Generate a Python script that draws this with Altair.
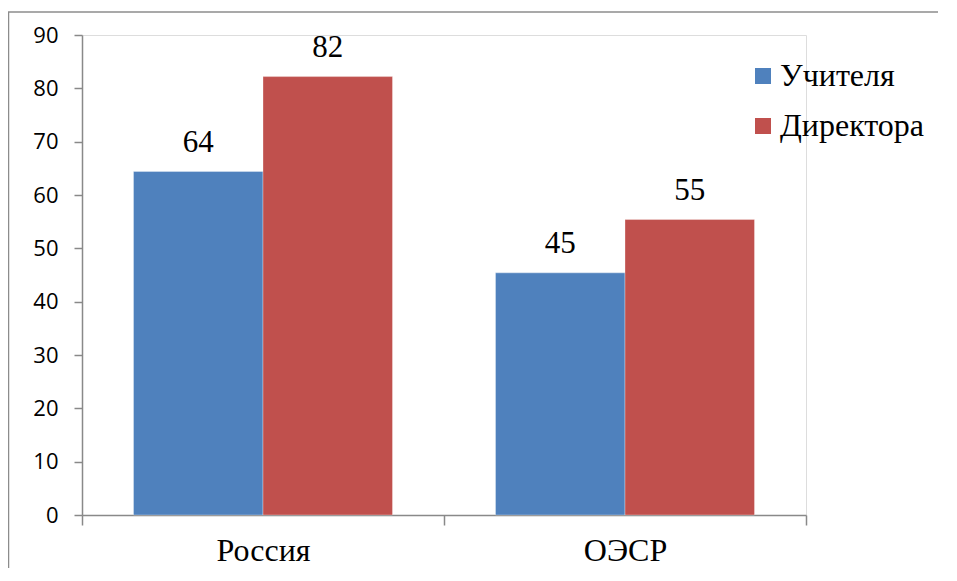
import altair as alt
import pandas as pd

categories = ["Россия", "ОЭСР"]
series = ["Учителя", "Директора"]
teachers = [64.4, 45.4]
directors = [82.2, 55.4]
labels_teachers = ["64", "45"]
labels_directors = ["82", "55"]
colors = ["#4F81BD", "#C0504D"]

rows = []
for i, c in enumerate(categories):
    rows.append({"cat": c, "ser": series[0], "val": teachers[i], "lab": labels_teachers[i]})
    rows.append({"cat": c, "ser": series[1], "val": directors[i], "lab": labels_directors[i]})
df = pd.DataFrame(rows)

W, H = 724, 480
PL, PT = 74, 27
SERIF = "Liberation Serif"

x = alt.X("cat:N", sort=categories,
          scale=alt.Scale(paddingInner=0, paddingOuter=0),
          axis=alt.Axis(title=None, labelAngle=0, labelFont=SERIF,
                        labelFontSize=32, labelColor="black", labelPadding=10,
                        domainColor="#898989", domainWidth=1.5, tickColor="#898989",
                        tickWidth=1.5, tickSize=10, tickBand="extent", grid=False))
xo = alt.XOffset("ser:N", sort=series, scale=alt.Scale(paddingInner=0, paddingOuter=0.3977))
y = alt.Y("val:Q", scale=alt.Scale(domain=[0, 90]),
          axis=alt.Axis(title=None, values=list(range(0, 91, 10)), labelFont="Open Sans",
                        labelFontSize=22, labelColor="black", labelPadding=16,
                        domainColor="#898989", domainWidth=1.5, tickColor="#898989",
                        tickWidth=1.5, tickSize=8, grid=False))

bars = alt.Chart(df).mark_bar(stroke="#ffffff", strokeOpacity=0.4, strokeWidth=0.8).encode(
    x=x, xOffset=xo, y=y,
    color=alt.Color("ser:N", sort=series, scale=alt.Scale(domain=series, range=colors),
                    legend=alt.Legend(title=None, orient="none", legendX=665, legendY=25,
                                      symbolType="square", symbolSize=256,
                                      symbolStrokeWidth=0, labelFont=SERIF,
                                      labelFontSize=32, labelColor="black",
                                      labelOffset=1, rowPadding=18, padding=0)),
)

text = alt.Chart(df).mark_text(baseline="bottom", dy=-13, font=SERIF,
                               fontSize=31, color="black").encode(
    x=alt.X("cat:N", sort=categories), xOffset=alt.XOffset("ser:N", sort=series), y="val:Q",
    text="lab:N")

frame_df = pd.DataFrame({"a": [0]})
top_line = alt.Chart(frame_df).mark_rule(stroke="#8c8c8c", strokeWidth=1.5).encode(
    x=alt.value(-PL), x2=alt.value(W + 200), y=alt.value(-(PT - 4)))
left_line = alt.Chart(frame_df).mark_rule(stroke="#8c8c8c", strokeWidth=1.5).encode(
    x=alt.value(-PL + 0.5), y=alt.value(-(PT - 4)), y2=alt.value(H + 200))

chart = alt.layer(top_line, left_line, bars, text).properties(
    width=W, height=H,
    autosize=alt.AutoSizeParams(type="none"),
    padding={"left": PL, "top": PT, "right": 930 - PL - W, "bottom": 560 - PT - H},
).configure_view(stroke=None).configure(background="white")

chart.save("out.html", embed_options={"renderer": "svg", "actions": False})
